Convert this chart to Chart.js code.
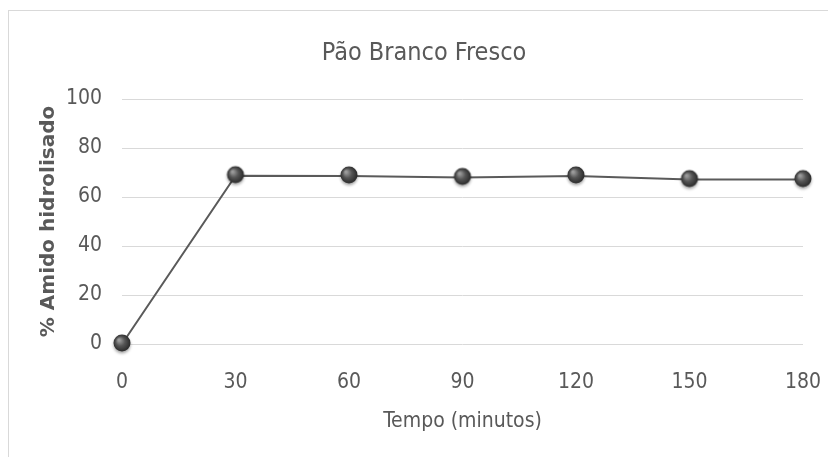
<!DOCTYPE html>
<html>
<head>
<meta charset="utf-8">
<script src="https://cdn.jsdelivr.net/npm/chart.js@4"></script>
<style>
  body { margin: 0; background: #fff; overflow: hidden; }
  #box { position: absolute; left: 8px; top: 10px; width: 820px; height: 460px; border: 1px solid #d9d9d9; }
</style>
</head>
<body>
<div id="box"><canvas id="chart"></canvas></div>
<script>
const minutes = [0, 30, 60, 90, 120, 150, 180];
const amido = [0, 68.7, 68.6, 68.0, 68.6, 67.1, 67.1];
const titleText = 'Pão Branco Fresco';
const xTitle = 'Tempo (minutos)';
const yTitle = '% Amido hidrolisado';

const narrow = '"DejaVu Sans Condensed", sans-serif';
const grey = '#595959';

// little shaded ball used as the marker
function makeBall() {
    const c = document.createElement('canvas');
    c.width = 24; c.height = 26;
    const ctx = c.getContext('2d');
    ctx.shadowColor = 'rgba(0,0,0,0.35)';
    ctx.shadowBlur = 3;
    ctx.shadowOffsetY = 2;
    const g = ctx.createRadialGradient(9, 9, 1, 12, 12, 9);
    g.addColorStop(0, '#9a9a9a');
    g.addColorStop(0.45, '#555');
    g.addColorStop(1, '#262626');
    ctx.fillStyle = g;
    ctx.beginPath();
    ctx.arc(12, 12, 8.5, 0, Math.PI * 2);
    ctx.fill();
    return c;
}
const ball = makeBall();

new Chart(document.getElementById('chart'), {
    type: 'line',
    data: {
        datasets: [{
            data: minutes.map((m, i) => ({ x: m, y: amido[i] })),
            borderColor: '#5a5a5a',
            borderWidth: 2,
            pointStyle: ball,
            tension: 0,
            clip: false
        }]
    },
    options: {
        responsive: true,
        maintainAspectRatio: false,
        animation: false,
        layout: { padding: { left: 10, right: 0, top: 0, bottom: 37 } },
        plugins: {
            legend: { display: false },
            tooltip: { enabled: false },
            title: {
                display: true,
                text: titleText,
                color: grey,
                font: { family: narrow, size: 25, weight: 'normal' },
                padding: { top: 27, bottom: 31 }
            }
        },
        scales: {
            x: {
                type: 'linear',
                min: 0, max: 180,
                ticks: { stepSize: 30, color: grey, padding: 26, font: { family: narrow, size: 21 } },
                grid: { display: false, drawTicks: false },
                border: { display: false },
                title: { display: true, text: xTitle, color: grey, font: { family: narrow, size: 21 }, padding: 0 },
                afterFit: s => { s.height = 90; s.paddingLeft = 0; s.paddingRight = 26; }
            },
            y: {
                min: 0, max: 100,
                ticks: { stepSize: 20, color: grey, padding: 20, font: { family: narrow, size: 21 } },
                grid: { color: '#d9d9d9', drawTicks: false },
                border: { display: false },
                title: { display: true, text: yTitle, color: grey, font: { family: '"DejaVu Sans", sans-serif', size: 20, weight: 'bold' }, padding: { top: 18, bottom: 0 } },
                afterFit: s => { s.width = 103; }
            }
        }
    }
});
</script>
</body>
</html>
